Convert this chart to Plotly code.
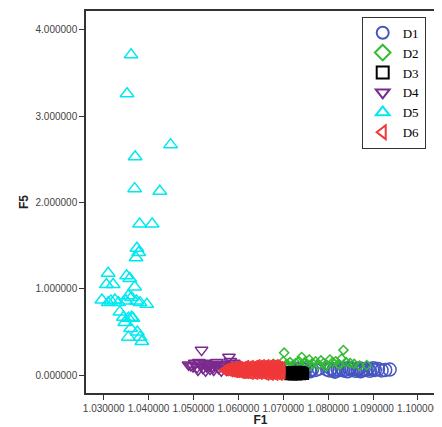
import plotly.graph_objects as go

# ---- data ----
d1_x = [1.0712, 1.0717, 1.0723, 1.0729, 1.0735, 1.0741, 1.0747, 1.0752, 1.0758, 1.0764, 1.0772, 1.0779,
        1.0798, 1.0803, 1.0807, 1.0812, 1.0816, 1.0821, 1.0825, 1.0830, 1.0834, 1.0839, 1.0843, 1.0848,
        1.0852, 1.0857, 1.0861, 1.0866, 1.0870, 1.0875, 1.0879, 1.0884, 1.0888, 1.0893, 1.0898, 1.0904,
        1.0911, 1.0919, 1.0927, 1.0937, 1.0815, 1.0846, 1.0872, 1.0901, 1.0760]
d1_y = [0.055, 0.070, 0.060, 0.075, 0.050, 0.070, 0.060, 0.080, 0.055, 0.065, 0.060, 0.075,
        0.065, 0.055, 0.075, 0.060, 0.050, 0.070, 0.060, 0.080, 0.055, 0.065, 0.045, 0.075,
        0.060, 0.070, 0.050, 0.065, 0.080, 0.055, 0.065, 0.060, 0.075, 0.050, 0.065, 0.060,
        0.070, 0.055, 0.060, 0.065, 0.040, 0.085, 0.045, 0.080, 0.045]

d2_x = [1.0665, 1.0678, 1.0690, 1.0700, 1.0702, 1.0708, 1.0715, 1.0722, 1.0728, 1.0735, 1.0741, 1.0748,
        1.0753, 1.0758, 1.0765, 1.0772, 1.0778, 1.0784, 1.0790, 1.0797, 1.0804, 1.0810, 1.0817, 1.0823,
        1.0830, 1.0834, 1.0840, 1.0849, 1.0858, 1.0870, 1.0886, 1.0712, 1.0760, 1.0795, 1.0826]
d2_y = [0.110, 0.130, 0.120, 0.160, 0.260, 0.130, 0.150, 0.120, 0.140, 0.160, 0.210, 0.150,
        0.130, 0.180, 0.140, 0.160, 0.120, 0.170, 0.140, 0.120, 0.180, 0.150, 0.160, 0.130,
        0.190, 0.290, 0.150, 0.140, 0.130, 0.110, 0.115, 0.100, 0.110, 0.100, 0.120]

d3_x = [1.0712, 1.0716, 1.0720, 1.0724, 1.0728, 1.0732, 1.0736, 1.0740, 1.0744, 1.0747,
        1.0714, 1.0718, 1.0722, 1.0726, 1.0730, 1.0734, 1.0738, 1.0742, 1.0746,
        1.0712, 1.0716, 1.0720, 1.0724, 1.0728, 1.0732, 1.0736, 1.0740, 1.0744, 1.0747,
        1.0714, 1.0718, 1.0722, 1.0726, 1.0730, 1.0734, 1.0738, 1.0742]
d3_y = [-0.005, 0.000, -0.008, -0.003, 0.002, -0.006, 0.000, -0.004, 0.002, -0.002,
        0.015, 0.020, 0.013, 0.018, 0.022, 0.015, 0.019, 0.014, 0.021,
        0.032, 0.037, 0.030, 0.035, 0.040, 0.032, 0.036, 0.031, 0.038, 0.034,
        0.048, 0.052, 0.046, 0.050, 0.054, 0.047, 0.051, 0.049]

d4_x = [1.0489, 1.0494, 1.0499, 1.0503, 1.0508, 1.0512, 1.0516, 1.0518, 1.0521, 1.0525, 1.0529, 1.0533,
        1.0537, 1.0540, 1.0544, 1.0548, 1.0552, 1.0556, 1.0560, 1.0564, 1.0568, 1.0572, 1.0576, 1.0579,
        1.0582, 1.0586, 1.0590, 1.0594, 1.0598, 1.0603, 1.0609, 1.0615, 1.0622, 1.0630, 1.0638,
        1.0510, 1.0527, 1.0545, 1.0562, 1.0574, 1.0588, 1.0600]
d4_y = [0.120, 0.110, 0.100, 0.140, 0.090, 0.150, 0.120, 0.290, 0.080, 0.140, 0.100, 0.120,
        0.070, 0.130, 0.090, 0.110, 0.150, 0.080, 0.120, 0.100, 0.130, 0.070, 0.110, 0.210,
        0.160, 0.090, 0.140, 0.120, 0.100, 0.080, 0.110, 0.090, 0.100, 0.080, 0.090,
        0.060, 0.050, 0.060, 0.050, 0.060, 0.060, 0.070]

d5_x = [1.0361, 1.0352, 1.0370, 1.0369, 1.0425, 1.0449, 1.0380, 1.0408, 1.0374, 1.0378, 1.0372,
        1.0310, 1.0351, 1.0358, 1.0306, 1.0321, 1.0369, 1.0355, 1.0362, 1.0296, 1.0310, 1.0316,
        1.0325, 1.0333, 1.0350, 1.0373, 1.0381, 1.0396, 1.0336, 1.0344, 1.0355, 1.0362, 1.0347,
        1.0365, 1.0360, 1.0375, 1.0355, 1.0381, 1.0385]
d5_y = [3.71, 3.26, 2.53, 2.16, 2.13, 2.67, 1.75, 1.75, 1.47, 1.42, 1.36,
        1.18, 1.15, 1.12, 1.05, 1.05, 1.02, 0.92, 0.90, 0.87, 0.84, 0.86,
        0.87, 0.84, 0.86, 0.86, 0.84, 0.82, 0.73, 0.67, 0.66, 0.67, 0.61,
        0.66, 0.54, 0.50, 0.44, 0.44, 0.39]

d6_x = [1.0568,
        1.0573, 1.0573,
        1.0578, 1.0578,
        1.0583, 1.0583, 1.0583,
        1.0588, 1.0588, 1.0588,
        1.0593, 1.0593, 1.0593,
        1.0598, 1.0598, 1.0598, 1.0598,
        1.0603, 1.0603, 1.0603, 1.0603,
        1.0608, 1.0608, 1.0608, 1.0608,
        1.0613, 1.0613, 1.0613, 1.0613,
        1.0618, 1.0618, 1.0618, 1.0618, 1.0618,
        1.0623, 1.0623, 1.0623, 1.0623,
        1.0628, 1.0628, 1.0628, 1.0628, 1.0628,
        1.0633, 1.0633, 1.0633, 1.0633,
        1.0638, 1.0638, 1.0638, 1.0638, 1.0638,
        1.0643, 1.0643, 1.0643, 1.0643, 1.0643,
        1.0648, 1.0648, 1.0648, 1.0648, 1.0648,
        1.0653, 1.0653, 1.0653, 1.0653, 1.0653,
        1.0658, 1.0658, 1.0658, 1.0658, 1.0658,
        1.0663, 1.0663, 1.0663, 1.0663, 1.0663, 1.0663,
        1.0668, 1.0668, 1.0668, 1.0668, 1.0668,
        1.0673, 1.0673, 1.0673, 1.0673, 1.0673, 1.0673,
        1.0678, 1.0678, 1.0678, 1.0678, 1.0678,
        1.0683, 1.0683, 1.0683, 1.0683, 1.0683, 1.0683,
        1.0688, 1.0688, 1.0688, 1.0688, 1.0688,
        1.0693, 1.0693, 1.0693, 1.0693, 1.0693,
        1.0698, 1.0698, 1.0698, 1.0698]
d6_y = [0.06,
        0.05, 0.07,
        0.05, 0.08,
        0.04, 0.07, 0.09,
        0.04, 0.06, 0.09,
        0.03, 0.06, 0.08,
        0.03, 0.05, 0.08, 0.10,
        0.03, 0.05, 0.07, 0.10,
        0.02, 0.05, 0.07, 0.09,
        0.02, 0.04, 0.07, 0.10,
        0.02, 0.04, 0.06, 0.09, 0.11,
        0.02, 0.05, 0.07, 0.10,
        0.01, 0.04, 0.06, 0.09, 0.11,
        0.02, 0.04, 0.07, 0.10,
        0.01, 0.03, 0.06, 0.08, 0.11,
        0.02, 0.05, 0.07, 0.10, 0.12,
        0.01, 0.03, 0.06, 0.09, 0.11,
        0.02, 0.04, 0.07, 0.10, 0.12,
        0.01, 0.03, 0.06, 0.08, 0.11,
        0.00, 0.03, 0.05, 0.08, 0.10, 0.12,
        0.01, 0.04, 0.06, 0.09, 0.11,
        0.00, 0.02, 0.05, 0.07, 0.10, 0.12,
        0.01, 0.03, 0.06, 0.08, 0.11,
        0.00, 0.02, 0.05, 0.07, 0.10, 0.12,
        0.01, 0.04, 0.06, 0.09, 0.11,
        0.00, 0.02, 0.05, 0.08, 0.10,
        0.01, 0.03, 0.06, 0.09]

series = [
    ("D1", d1_x, d1_y, "circle-open", "#4656c0", 13),
    ("D2", d2_x, d2_y, "diamond-open", "#33bb33", 7),
    ("D3", d3_x, d3_y, "square-open", "#000000", 8),
    ("D4", d4_x, d4_y, "triangle-down-open", "#7a2a8c", 11),
    ("D5", d5_x, d5_y, "triangle-up-open", "#00e8f0", 12),
    ("D6", d6_x, d6_y, "triangle-left-open", "#f03838", 9),
]

x_ticks = [1.03, 1.04, 1.05, 1.06, 1.07, 1.08, 1.09, 1.10]
y_ticks = [0, 1, 2, 3, 4]

fig = go.Figure()
for name, xs, ys, sym, col, sz in series:
    fig.add_trace(go.Scatter(
        x=xs, y=ys, mode="markers", name=name,
        marker=dict(symbol=sym, color=col, size=sz, line=dict(width=1.5, color=col)),
    ))

axis_common = dict(
    showline=True, linecolor="#333333", linewidth=1.5, mirror=True,
    ticks="outside", ticklen=5, tickcolor="#333333", tickwidth=1.2,
    showgrid=False, zeroline=False,
    tickfont=dict(family="Liberation Sans, Arial", size=10, color="#444444"),
    tickformat=".6f",
)

# the page body has an 8px margin, so the figure is drawn 8px in from the window edge
fig.update_layout(
    width=434, height=419,
    margin=dict(l=78, r=7, t=1, b=34),
    paper_bgcolor="white", plot_bgcolor="white",
    xaxis=dict(axis_common, range=[1.02606, 1.1038], tickvals=x_ticks,
               title=dict(text="<b>F1</b>", font=dict(family="Liberation Sans, Arial", size=12, color="#222222"),
                          standoff=2)),
    yaxis=dict(axis_common, range=[-0.207, 4.218], tickvals=y_ticks,
               title=dict(text="<b>F5</b>", font=dict(family="Liberation Sans, Arial", size=12, color="#222222"),
                          standoff=4)),
    legend=dict(x=0.79, y=0.985, xanchor="left", yanchor="top",
                bgcolor="white", bordercolor="#333333", borderwidth=1,
                font=dict(family="Liberation Serif, Times New Roman", size=13, color="#000000"),
                itemsizing="constant", tracegroupgap=0, itemwidth=30),
    showlegend=True,
)

fig.write_html("out.html")
